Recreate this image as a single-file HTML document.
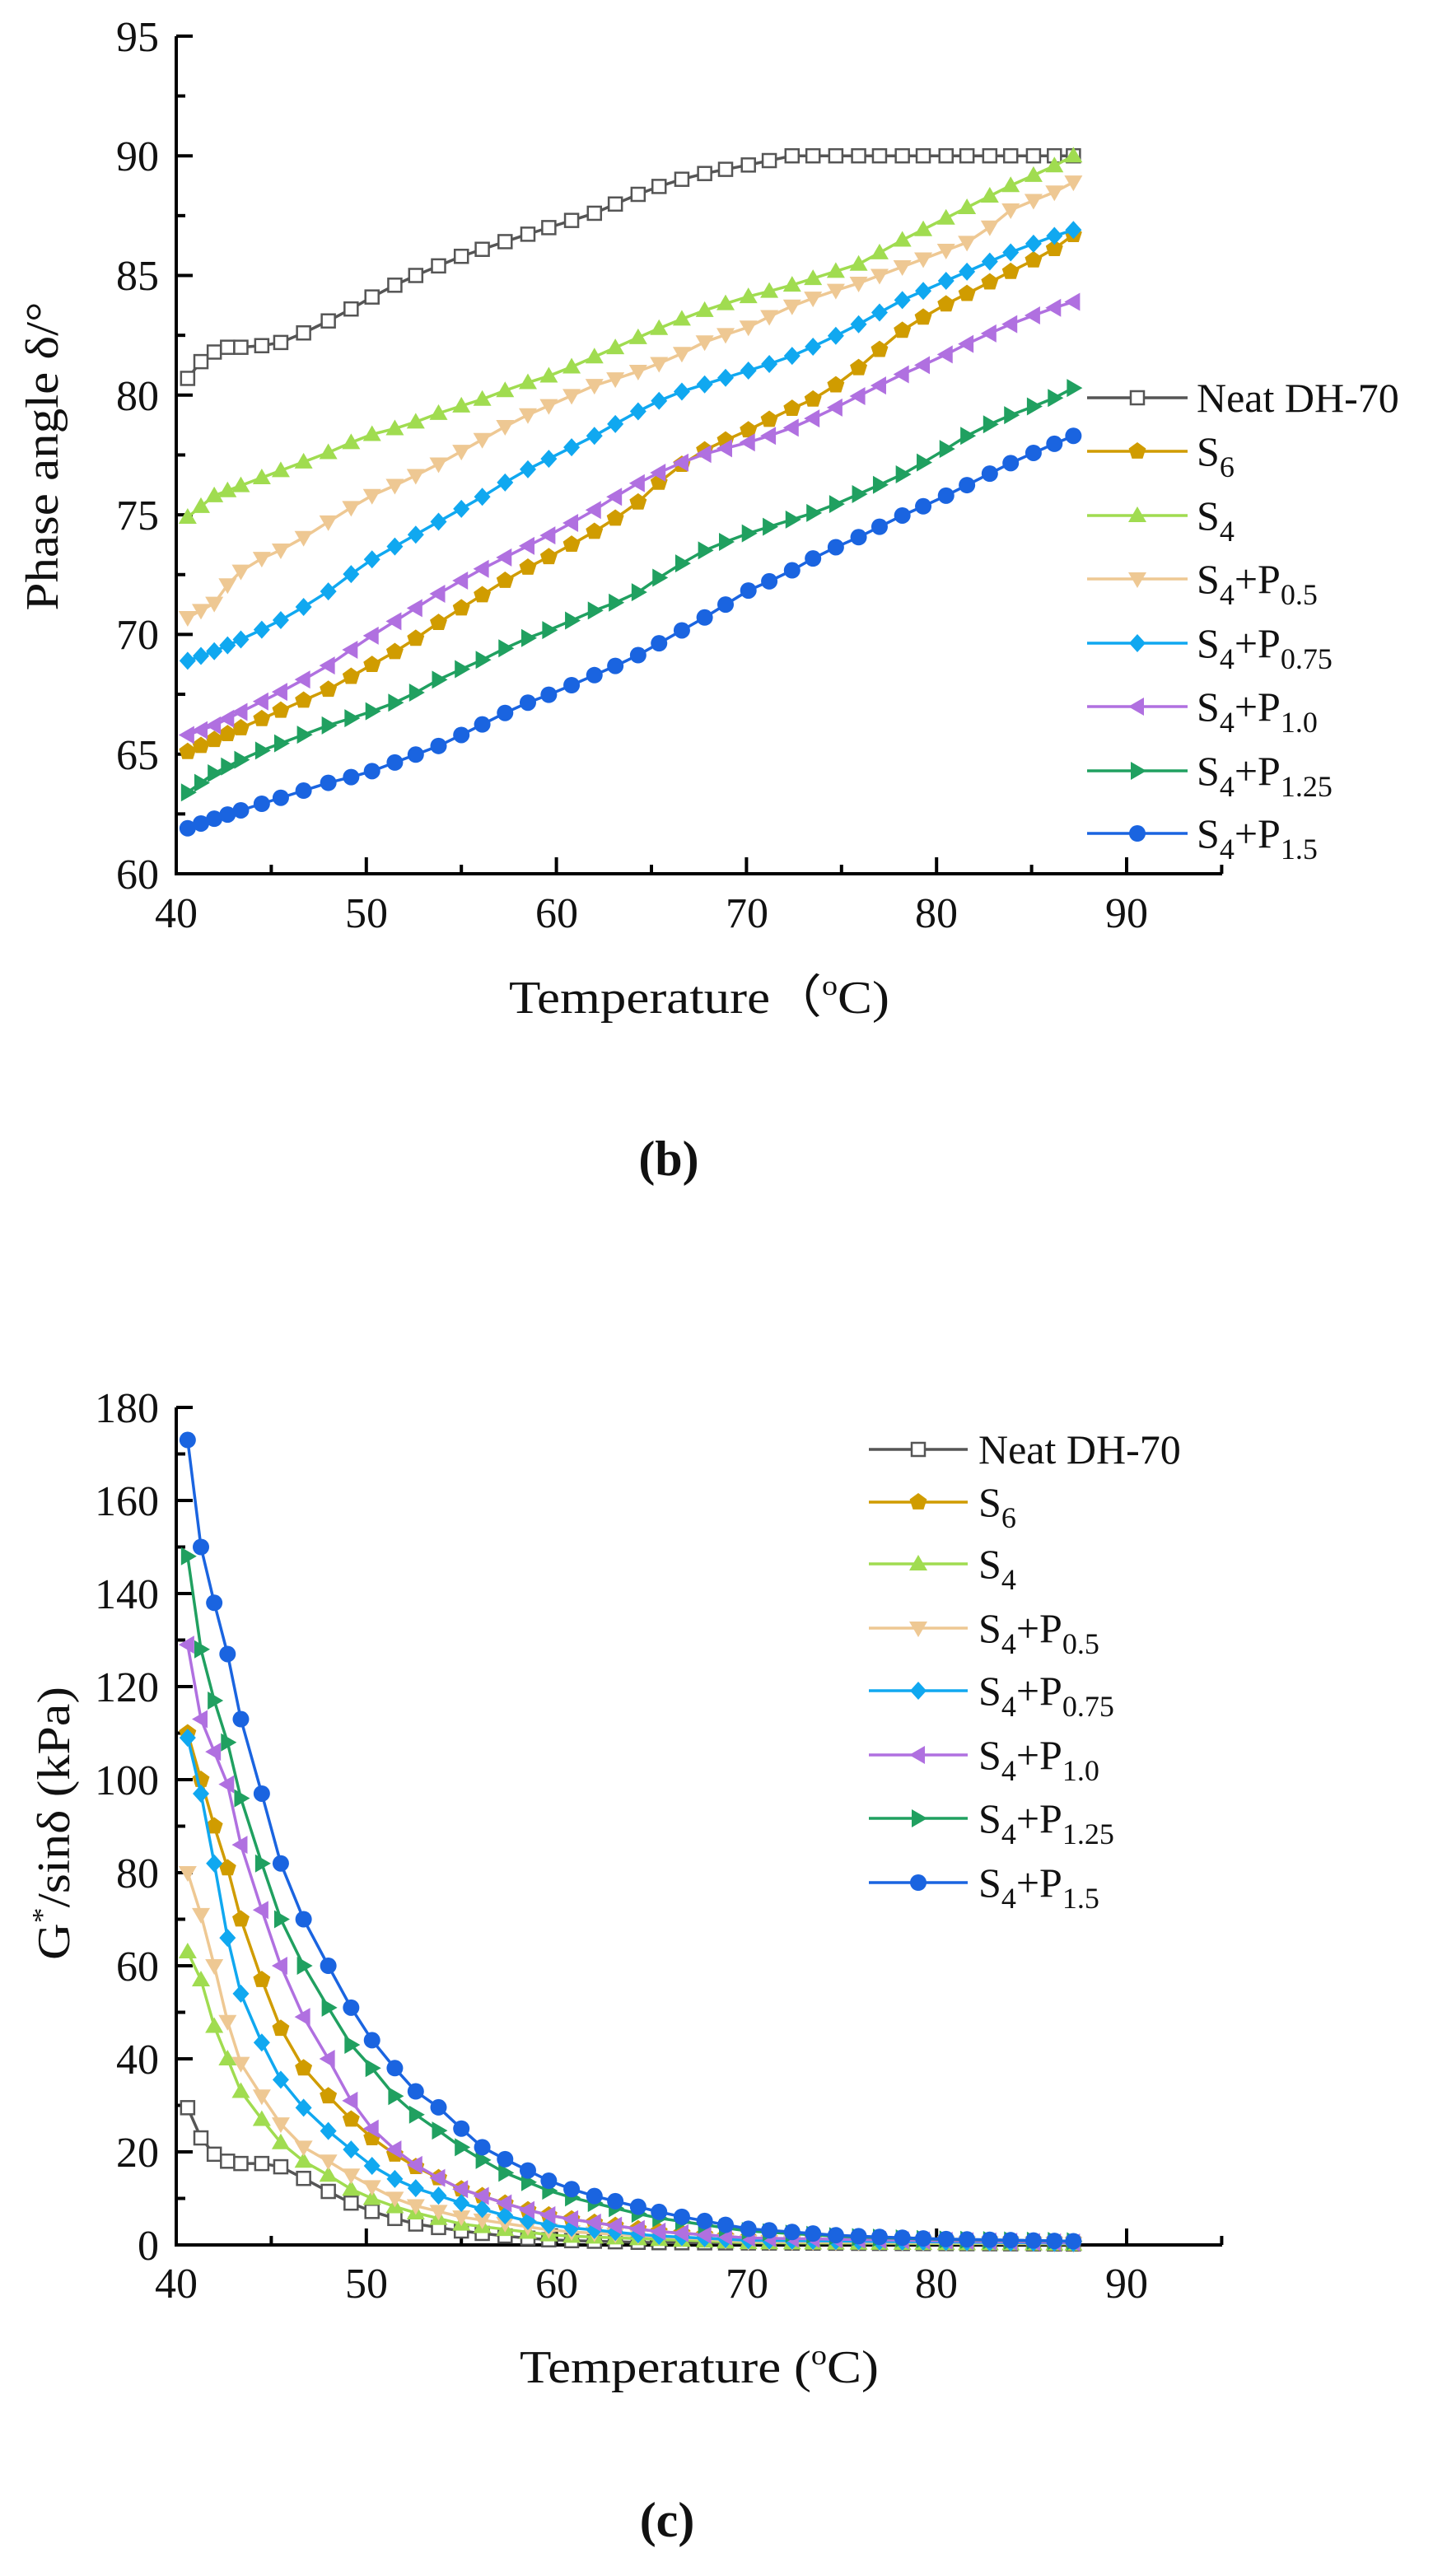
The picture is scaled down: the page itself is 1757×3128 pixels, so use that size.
<!DOCTYPE html>
<html><head><meta charset="utf-8"><style>
html,body{margin:0;padding:0;background:#fff}
svg{display:block}
text{font-family:"Liberation Serif",serif;fill:#111}
</style></head><body>
<svg id="s" width="1757" height="3128" viewBox="0 0 1757 3128" xmlns="http://www.w3.org/2000/svg">
<rect width="1757" height="3128" fill="#fff"/>
<g id="axes" stroke="#000" stroke-width="4" fill="none"></g>
<g id="series"></g>
<!-- Chart b text -->
<g font-size="52" text-anchor="end">
<text x="193" y="62">95</text><text x="193" y="207">90</text><text x="193" y="352">85</text><text x="193" y="498">80</text>
<text x="193" y="643">75</text><text x="193" y="788">70</text><text x="193" y="934">65</text><text x="193" y="1079">60</text>
</g>
<g font-size="52" text-anchor="middle">
<text x="214" y="1126">40</text><text x="445" y="1126">50</text><text x="676" y="1126">60</text>
<text x="907" y="1126">70</text><text x="1137" y="1126">80</text><text x="1368" y="1126">90</text>
</g>
<text x="849" y="1230" font-size="56" text-anchor="middle" textLength="462" lengthAdjust="spacingAndGlyphs">Temperature（<tspan font-size="34" dy="-22">o</tspan><tspan dy="22">C)</tspan></text>
<text transform="translate(70,554) rotate(-90)" font-size="56" text-anchor="middle" textLength="375" lengthAdjust="spacingAndGlyphs">Phase angle δ/°</text>
<text x="812" y="1427" font-size="60" font-weight="bold" text-anchor="middle">(b)</text>
<!-- Chart c text -->
<g font-size="52" text-anchor="end">
<text x="193" y="1727">180</text><text x="193" y="1840">160</text><text x="193" y="1953">140</text><text x="193" y="2066">120</text>
<text x="193" y="2179">100</text><text x="193" y="2292">80</text><text x="193" y="2405">60</text><text x="193" y="2518">40</text>
<text x="193" y="2631">20</text><text x="193" y="2744">0</text>
</g>
<g font-size="52" text-anchor="middle">
<text x="214" y="2790">40</text><text x="445" y="2790">50</text><text x="676" y="2790">60</text>
<text x="907" y="2790">70</text><text x="1137" y="2790">80</text><text x="1368" y="2790">90</text>
</g>
<text x="849" y="2893" font-size="56" text-anchor="middle" textLength="436" lengthAdjust="spacingAndGlyphs">Temperature (<tspan font-size="34" dy="-22">o</tspan><tspan dy="22">C)</tspan></text>
<text transform="translate(84,2214) rotate(-90)" font-size="56" text-anchor="middle" textLength="332" lengthAdjust="spacingAndGlyphs">G<tspan font-size="34" dy="-22">*</tspan><tspan dy="22">/sinδ (kPa)</tspan></text>
<text x="810" y="3080" font-size="60" font-weight="bold" text-anchor="middle">(c)</text>
<!-- legends -->
<g font-size="50" id="legb">
<text x="1453" y="500">Neat DH-70</text>
<text x="1453" y="565">S<tspan font-size="36" dy="14">6</tspan></text>
<text x="1453" y="643">S<tspan font-size="36" dy="14">4</tspan></text>
<text x="1453" y="720">S<tspan font-size="36" dy="14">4</tspan><tspan dy="-14">+P</tspan><tspan font-size="36" dy="14">0.5</tspan></text>
<text x="1453" y="798">S<tspan font-size="36" dy="14">4</tspan><tspan dy="-14">+P</tspan><tspan font-size="36" dy="14">0.75</tspan></text>
<text x="1453" y="875">S<tspan font-size="36" dy="14">4</tspan><tspan dy="-14">+P</tspan><tspan font-size="36" dy="14">1.0</tspan></text>
<text x="1453" y="953">S<tspan font-size="36" dy="14">4</tspan><tspan dy="-14">+P</tspan><tspan font-size="36" dy="14">1.25</tspan></text>
<text x="1453" y="1029">S<tspan font-size="36" dy="14">4</tspan><tspan dy="-14">+P</tspan><tspan font-size="36" dy="14">1.5</tspan></text>
</g>
<g font-size="50" id="legc">
<text x="1188" y="1777">Neat DH-70</text>
<text x="1188" y="1841">S<tspan font-size="36" dy="14">6</tspan></text>
<text x="1188" y="1916">S<tspan font-size="36" dy="14">4</tspan></text>
<text x="1188" y="1994">S<tspan font-size="36" dy="14">4</tspan><tspan dy="-14">+P</tspan><tspan font-size="36" dy="14">0.5</tspan></text>
<text x="1188" y="2070">S<tspan font-size="36" dy="14">4</tspan><tspan dy="-14">+P</tspan><tspan font-size="36" dy="14">0.75</tspan></text>
<text x="1188" y="2148">S<tspan font-size="36" dy="14">4</tspan><tspan dy="-14">+P</tspan><tspan font-size="36" dy="14">1.0</tspan></text>
<text x="1188" y="2225">S<tspan font-size="36" dy="14">4</tspan><tspan dy="-14">+P</tspan><tspan font-size="36" dy="14">1.25</tspan></text>
<text x="1188" y="2303">S<tspan font-size="36" dy="14">4</tspan><tspan dy="-14">+P</tspan><tspan font-size="36" dy="14">1.5</tspan></text>
</g>
</svg>
<script>
(function(){
var NS="http://www.w3.org/2000/svg";
var axes=document.getElementById('axes'), ser=document.getElementById('series');
function el(n,a,p){var e=document.createElementNS(NS,n);for(var k in a)e.setAttribute(k,a[k]);(p||ser).appendChild(e);return e;}
function X(t){return 214+(t-40)*23.08;}
function axis(yTop,yBot,yTicks){
 el('path',{d:'M214 '+yTop+' L214 '+yBot+' L1484 '+yBot},axes);
 for(var t=40;t<=95;t+=5){var L=(t%10==0)?20:11;el('line',{x1:X(t),y1:yBot,x2:X(t),y2:yBot-L},axes);}
 yTicks.forEach(function(a){el('line',{x1:214,y1:a[0],x2:214+a[1],y2:a[0]},axes);});
}
var tb=[];for(var v=60;v<=95;v+=2.5){tb.push([1061-(v-60)*29.06,(v%5==0)?20:11]);}
axis(44,1061,tb);
var tc=[];for(var v=0;v<=180;v+=10){tc.push([2726-v*5.65,(v%20==0)?20:11]);}
axis(1709,2726,tc);
var xs=[40.6,41.3,42,42.7,43.4,44.5,45.5,46.7,48,49.2,50.3,51.5,52.6,53.8,55,56.1,57.3,58.5,59.6,60.8,62,63.1,64.3,65.4,66.6,67.8,68.9,70.1,71.2,72.4,73.5,74.7,75.9,77,78.2,79.3,80.5,81.6,82.8,83.9,85.1,86.2,87.2];
function interp(kp,t){for(var i=0;i<kp.length-1;i++){if(t<=kp[i+1][0]){var a=kp[i],b=kp[i+1];return a[1]+(b[1]-a[1])*(t-a[0])/(b[0]-a[0]);}}return kp[kp.length-1][1];}
function P(s){return s.split(' ').map(function(p){var q=p.split(':');return [+q[0],+q[1]];});}
var S=[
 {c:'#555555',m:'sq',b:'40.6:80.7 41.3:81.4 42:81.8 42.7:82 44:82 45.5:82.2 46.7:82.6 48:83.1 49.2:83.6 50.3:84.1 52:84.8 55:85.8 58:86.6 60:87.1 62:87.6 64:88.3 66:88.9 68:89.3 70:89.6 71.2:89.8 72.4:90 87.2:90',
  c2:'40.6:29.5 41.3:23 42:19.5 42.7:18 43.4:17.5 44.5:17.5 45.5:16.8 46.7:14.3 48:11.5 49.2:9 50.3:7.2 51.5:5.7 52.6:4.5 55:3 58:1.6 60:1 65:0.5 87.2:0.2'},
 {c:'#d09c00',m:'pent',b:'40.6:65.1 42:65.6 44:66.3 46:67 48:67.7 50:68.6 52:69.5 54:70.6 56:71.6 58:72.6 60:73.4 62:74.3 64:75.3 66:76.8 68:77.8 70:78.5 72:79.3 74:80 76:81.2 78:82.6 80:83.6 82:84.4 84:85.2 86:86 87.2:86.7',
  c2:'40.6:110 42:90 42.7:81 43.4:70 44.5:57 45.5:46.5 46.7:38 48:32 49.2:27 50.3:23 52:18 55:12 58:8 60:6 65:3 70:1.5 80:0.6 87.2:0.3'},
 {c:'#a0dc50',m:'up',b:'40.6:74.9 42:75.8 44:76.4 46:77 48:77.6 50:78.3 52:78.7 54:79.3 56:79.8 58:80.4 60:80.9 62:81.6 64:82.3 66:83 68:83.6 70:84.1 72:84.5 74:85 76:85.5 78:86.4 80:87.2 82:88 84:88.8 86:89.5 87.2:90',
  c2:'40.6:63 41.3:57 42:47 42.7:40 43.4:33 44.5:27 45.5:22 46.7:18 48:15 49.2:12 50.3:10 52:7.5 55:4.5 60:2 70:0.5 87.2:0.2'},
 {c:'#eec893',m:'down',b:'40.6:70.7 42:71.3 43:72.4 44:73 46:73.7 48:74.7 50:75.7 52:76.4 54:77.2 56:78.1 58:79 60:79.7 62:80.4 64:80.9 66:81.5 68:82.3 70:82.8 72:83.6 74:84.2 76:84.7 78:85.3 80:85.9 82:86.5 84:87.8 86:88.4 87.2:88.9',
  c2:'40.6:80 41.3:71 42:60 42.7:48 43.4:39 44.5:32 45.5:26 46.7:21 48:18 49.2:15 50.3:12.5 52:9 55:6 60:3 70:0.7 87.2:0.3'},
 {c:'#10a8f0',m:'dia',b:'40.6:68.9 42:69.3 44:70 46:70.8 48:71.8 50:73 52:73.9 54:74.8 56:75.7 58:76.7 60:77.5 62:78.3 64:79.2 66:80 68:80.5 70:81 72:81.5 74:82.2 76:83 78:83.9 80:84.6 82:85.3 84:86 86:86.6 87.2:86.9',
  c2:'40.6:109 41.3:97 42:82 42.7:66 43.4:54 44.5:43.5 45.5:35.5 46.7:29.5 48:24.5 49.2:20.5 50.3:17 52:13 55:9 58:5.5 60:4 65:2 70:1 87.2:0.4'},
 {c:'#b070e0',m:'left',b:'40.6:65.8 42:66.2 44:67 46:67.8 48:68.7 50:69.8 52:70.8 54:71.8 56:72.7 58:73.5 60:74.3 62:75.2 64:76.2 66:77 68:77.6 70:78 72:78.5 74:79.2 76:80 78:80.8 80:81.5 82:82.3 84:83 86:83.6 87.2:83.9',
  c2:'40.6:129 41.3:113 42:106 42.7:99 43.4:86 44.5:72 45.5:60 46.7:49 48:40 49.2:31 50.3:25 51.5:20.5 53:16 55:12 58:8 60:6 65:3 70:1.5 87.2:0.5'},
 {c:'#20a060',m:'right',b:'40.6:63.4 42:64.2 44:65 46:65.6 48:66.2 50:66.7 52:67.3 54:68.2 56:68.9 58:69.7 60:70.3 62:71 64:71.6 66:72.7 68:73.6 70:74.2 72:74.7 74:75.2 76:75.9 78:76.6 80:77.5 82:78.5 84:79.2 86:79.8 87.2:80.3',
  c2:'40.6:148 41.3:128 42:117 42.7:108 43.4:96 44.5:82 45.5:70 46.7:60 48:51 49.2:43 50.3:38 51.5:32 52.6:28 54:24 55:21 57:16 60:11 65:6 70:3 75:1.8 80:1.2 87.2:0.8'},
 {c:'#1a64e0',m:'circ',b:'40.6:61.9 42:62.3 44:62.8 46:63.3 48:63.8 50:64.2 52:64.8 54:65.4 56:66.2 58:67 60:67.6 62:68.3 64:69 66:69.9 68:70.8 70:71.8 72:72.5 74:73.4 76:74.1 78:74.9 80:75.6 82:76.4 84:77.2 86:77.9 87.2:78.3',
  c2:'40.6:173 41.3:150 42:138 42.7:127 43.4:113 44.5:97 45.5:82 46.7:70 48:60 49.2:51 50.3:44 51.5:38 52.6:33 54:29 55:25 56.1:21 57.5:18 59:15 60:13 62:10.5 64:8.5 66:6.5 68:5 70:3.5 75:2 80:1.3 87.2:0.8'}
];
function marker(m,x,y,c){
 if(m=='sq'){el('rect',{x:x-8,y:y-8,width:16,height:16,fill:'#fff',stroke:'#555','stroke-width':2.5});}
 else if(m=='circ'){el('circle',{cx:x,cy:y,r:10,fill:c});}
 else{var pts;
  if(m=='up')pts=[[0,-11],[11,8],[-11,8]];
  else if(m=='down')pts=[[0,11],[11,-8],[-11,-8]];
  else if(m=='left')pts=[[-11,0],[8,-11],[8,11]];
  else if(m=='right')pts=[[11,0],[-8,-11],[-8,11]];
  else if(m=='dia')pts=[[0,-11],[10,0],[0,11],[-10,0]];
  else {pts=[];for(var i=0;i<5;i++){var a=-Math.PI/2+i*2*Math.PI/5;pts.push([11*Math.cos(a),11*Math.sin(a)]);}}
  el('polygon',{points:pts.map(function(p){return (x+p[0])+','+(y+p[1]);}).join(' '),fill:c});}
}
function draw(kp,Yf,c,m){
 var pts=xs.map(function(t){return [X(t),Yf(interp(kp,t))];});
 el('polyline',{points:pts.map(function(p){return p.join(',');}).join(' '),fill:'none',stroke:c,'stroke-width':3.5});
 pts.forEach(function(p){marker(m,p[0],p[1],c);});
}
var Yb=function(v){return 1061-(v-60)*29.06;}, Yc=function(v){return 2726-v*5.65;};
S.forEach(function(s){draw(P(s.c2),Yc,s.c,s.m);});
S.forEach(function(s){draw(P(s.b),Yb,s.c,s.m);});
var lb=[483,548,626,703,781,858,936,1012], lc=[1760,1824,1899,1977,2053,2131,2208,2286];
S.forEach(function(s,i){
 el('line',{x1:1320,y1:lb[i],x2:1442,y2:lb[i],stroke:s.c,'stroke-width':3.5});marker(s.m,1381,lb[i],s.c);
 el('line',{x1:1055,y1:lc[i],x2:1175,y2:lc[i],stroke:s.c,'stroke-width':3.5});marker(s.m,1115,lc[i],s.c);
});
})();
</script>
</body></html>
